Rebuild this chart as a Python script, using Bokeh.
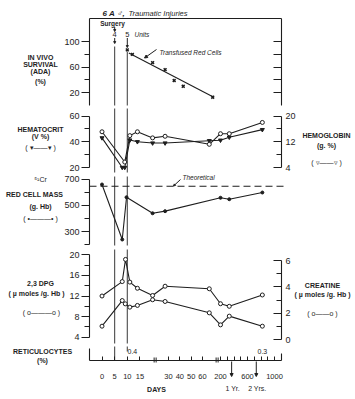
import numpy as np
from bokeh.plotting import figure
from bokeh.models import (Range1d, LinearAxis, FixedTicker, Label, Arrow,
                          NormalHead)
from bokeh.core.properties import value
from bokeh.embed import file_html
from bokeh.resources import INLINE

# ------------------------------------------------------------------ data
tick_days = [0, 5, 10, 15, 30, 40, 50, 60, 200, 300, 400, 500, 600, 700, 800, 900, 1000]
tick_text = {0: "0", 5: "5", 10: "10", 15: "15", 30: "30", 40: "40", 50: "50",
             60: "60", 200: "200", 600: "600", 1000: "1000"}
break_days = [21, 150]
event_days = [5, 10]            # surgery (4 units), transfusion (5 units)
year_days = [365, 730]
year_text = ["1 Yr.", "2 Yrs."]

surv_days = [10, 12, 20, 27, 35, 43, 69]
surv_vals = [87, 80, 67, 56, 39, 30, 13]
surv_fit_days = [10.6, 70]
surv_fit_vals = [82, 13]

hct_days = [0, 8, 9, 11, 14, 20, 27, 66, 200, 330, 820]
hct_vals = [43, 20, 20, 41.3, 40, 39, 39, 40.8, 41.2, 43.5, 49.4]
hb_days = [0, 9, 11, 14, 20, 27, 66, 200, 330, 820]
hb_vals = [15.1, 5.7, 13.9, 15.1, 13.2, 13.7, 11.2, 14.5, 14.5, 18.0]

rcm_days = [0, 8, 9.7, 20, 27, 200, 330, 820]
rcm_vals = [658, 239, 561, 439, 455, 557, 546, 597]
rcm_theoretical = 645

dpg_days = [0, 8, 9.3, 11, 14, 20, 27, 66, 200, 330, 820]
dpg_vals = [12.0, 14.8, 19.1, 14.7, 13.5, 12.1, 13.9, 13.4, 10.5, 10.0, 12.2]
creat_days = [0, 8, 9.2, 11, 14, 20, 27, 66, 200, 330, 820]
creat_vals = [1.03, 2.97, 2.72, 2.47, 2.6, 3.03, 2.9, 2.04, 1.13, 1.79, 1.03]

retic_days = [12, 820]
retic_text = ["0.4", "0.3"]

# ------------------------------------------------------------------ helpers
INK = "#1e1e1e"
GREY = "#4a4a4a"
FONT = "Liberation Sans"
X0 = 101.5            # pixel column of day 0
XL, XR = -12.5, 179.5  # left / right axis positions (plot units)


def u(d):
    """broken day axis -> plotting coordinate (1 unit = 1 px)"""
    d = np.asarray(d, dtype=float)
    return np.round(np.where(d <= 21, 2.53 * d,
                    np.where(d <= 100, 66.5 + (d - 30) * 1.133,
                             118.5 + (d - 200) * 0.0675)), 2)


def yrange(v1, p1, v2, p2):
    """range over the full canvas height so that v1 sits at pixel row p1, v2 at p2"""
    s = (v2 - v1) / (p2 - p1)
    return Range1d(v1 + (399 - p1) * s, v1 + (0 - p1) * s)


p = figure(width=355, height=399, x_range=Range1d(-X0, 355 - X0),
           y_range=Range1d(399, 0), toolbar_location=None, output_backend="svg",
           x_axis_location=None, y_axis_location=None,
           min_border_left=0, min_border_right=0, min_border_top=0,
           min_border_bottom=0)
p.outline_line_color = None
p.background_fill_color = "white"
p.border_fill_color = "white"
p.grid.visible = False

p.extra_y_ranges = {
    "surv": yrange(0, 105, 136, 18),
    "hct": yrange(60, 115.5, 20, 167),
    "hb": yrange(20, 115.5, 4, 167),
    "rcm": yrange(700, 178.5, 300, 231),
    "dpg": yrange(20, 254.3, 4, 336.7),
    "cr": yrange(6, 260, 0, 339.3),
}


def yaxis(side, loc, rname, ticks, minor=(), bounds="auto", labels=True,
          tin=0, tout=8, min_in=0, min_out=5, standoff=2, size="9px"):
    kw = {"y_range_name": rname} if rname else {}
    ax = LinearAxis(ticker=FixedTicker(ticks=list(ticks), minor_ticks=list(minor)),
                    bounds=bounds, fixed_location=loc, **kw)
    style(ax, labels, tin, tout, min_in, min_out, standoff, size)
    p.add_layout(ax, side)
    return ax


def style(ax, labels, tin, tout, min_in, min_out, standoff, size):
    ax.axis_line_color = INK
    ax.axis_line_width = 1.1
    ax.major_tick_line_color = INK
    ax.minor_tick_line_color = INK
    ax.major_tick_in = tin
    ax.major_tick_out = tout
    ax.minor_tick_in = min_in
    ax.minor_tick_out = min_out
    ax.major_label_text_font = FONT
    ax.major_label_text_font_size = size
    ax.major_label_text_color = INK if labels else None
    ax.major_label_standoff = standoff


def lab(px, py, text, size="7px", st="bold", align="center"):
    p.add_layout(Label(x=px - X0, y=py, text=text, text_align=align,
                       text_baseline="middle", text_font=FONT,
                       text_font_size=size, text_font_style=st,
                       text_color=INK))


def arrow(px0, py0, px1, py1, head=3):
    end = NormalHead(size=head, fill_color=INK, line_color=INK) if head else None
    p.add_layout(Arrow(end=end, x_start=px0 - X0, y_start=py0,
                       x_end=px1 - X0, y_end=py1, line_color=INK, line_width=1))


ev = u(event_days)
# vertical event lines, drawn panel by panel (pixel rows)
for tops, bots in [([46, 51], [105, 105]), ([108, 108], [172, 172]),
                   ([176, 176], [245, 245]), ([249, 249], [343, 343]),
                   ([346, 346], [360, 351])]:
    p.segment(x0=ev, y0=tops, x1=ev, y1=bots, line_color=GREY, line_width=1.1)

# ------------------------------------------------------------------ panel 1: survival
yaxis("left", XL, "surv", [20, 60, 100], [40, 80], bounds=(0, 136))
yaxis("right", XR, "surv", [20, 40, 60, 80, 100], bounds=(0, 136), labels=False,
      tin=8, tout=0)
top = LinearAxis(ticker=FixedTicker(ticks=[]), bounds=(XL, XR), fixed_location=18)
style(top, False, 0, 0, 0, 0, 0, "9px")
p.add_layout(top, "above")
p.line(u(surv_fit_days), surv_fit_vals, y_range_name="surv", line_color=INK,
       line_width=1.1)
p.scatter(u(surv_days), surv_vals, y_range_name="surv", marker="x", size=4,
          line_width=1.5, line_color=INK)
lab(102, 13, "6 A \u2642,", size="8px", st="bold italic", align="left")
lab(128, 13, "Traumatic  Injuries", size="7.5px", st="italic", align="left")
lab(112, 23, "Surgery", size="6.5px")
arrow(114.2, 26.5, 114.2, 31, head=2)
lab(114.2, 34, "4", size="7.5px", st="normal")
arrow(114.2, 37.5, 114.2, 43, head=2)
lab(126.8, 34, "5", size="7.5px", st="normal")
lab(134, 34, "Units", size="6.5px", st="italic", align="left")
arrow(126.8, 37.5, 126.8, 47, head=2)
lab(159, 52, "Transfused  Red  Cells", size="6.5px", st="italic", align="left")
arrow(156, 49, 144, 57.5, head=3)
for py, t in [(57, "IN VIVO"), (64, "SURVIVAL"), (71, "(ADA)"), (81, "(%)")]:
    lab(40, py, t)

# ------------------------------------------------------------------ panel 2: hematocrit / hemoglobin
yaxis("left", XL, "hct", [20, 40, 60], [30, 50], bounds=(20, 60))
yaxis("right", XR, "hb", [4, 12, 20], [8, 16], bounds=(4, 20), tin=8, tout=0,
      min_in=5, min_out=0, standoff=4)
p.line(u(hct_days), hct_vals, y_range_name="hct", line_color=INK, line_width=1.1)
p.scatter(u(hct_days), hct_vals, y_range_name="hct", marker="inverted_triangle",
          size=4, fill_color=INK, line_color=INK)
p.line(u(hb_days), hb_vals, y_range_name="hb", line_color=INK, line_width=1.1)
p.scatter(u(hb_days), hb_vals, y_range_name="hb", marker="circle", size=4,
          fill_color="white", line_color=INK)
lab(40, 129, "HEMATOCRIT")
lab(40, 136, "(V %)")
lab(40, 147, "( \u25BE\u2014\u2014\u25BE )", st="normal")
lab(326, 135, "HEMOGLOBIN")
lab(326, 145, "(g. %)")
lab(326, 162, "( \u25BF\u2014\u2014\u25BF )", st="normal")

# ------------------------------------------------------------------ panel 3: red cell mass
yaxis("left", XL, "rcm", [300, 500, 700], [200, 400, 600], bounds=(200, 700))
p.segment(x0=[XL], y0=[rcm_theoretical], x1=[XR + 2], y1=[rcm_theoretical],
          y_range_name="rcm", line_color=INK, line_width=1.1, line_dash="7 4")
p.line(u(rcm_days), rcm_vals, y_range_name="rcm", line_color=INK, line_width=1.1)
p.scatter(u(rcm_days), rcm_vals, y_range_name="rcm", marker="circle", size=3,
          fill_color=INK, line_color=INK)
lab(182, 176.5, "Theoretical", size="6.5px", st="italic", align="left")
arrow(180, 179, 173, 185.5, head=2)
lab(40, 179, "\u2075\u00B9Cr", size="7px", st="normal")
lab(36, 194, "RED  CELL  MASS")
lab(40, 206, "(g. Hb)")
lab(40, 218, "( \u2022\u2014\u2014\u2014\u2022 )", st="normal")

# ------------------------------------------------------------------ panel 4: 2,3 DPG / creatine
yaxis("left", XL, "dpg", [4, 8, 12, 16, 20], [6, 10, 14, 18], bounds=(4, 20))
yaxis("right", XR, "cr", [0, 2, 4, 6], [1, 3, 5], bounds=(0, 6), tin=8, tout=0,
      min_in=5, min_out=0, standoff=4)
p.line(u(dpg_days), dpg_vals, y_range_name="dpg", line_color=INK, line_width=1.1)
p.scatter(u(dpg_days), dpg_vals, y_range_name="dpg", marker="circle", size=4,
          fill_color="white", line_color=INK)
p.line(u(creat_days), creat_vals, y_range_name="cr", line_color=INK, line_width=1.1)
p.scatter(u(creat_days), creat_vals, y_range_name="cr", marker="circle", size=4,
          fill_color="white", line_color=INK)
lab(40, 283, "2,3 DPG")
lab(36, 293, "( \u00B5 moles /g. Hb )")
lab(41, 312, "( o\u2014\u2014\u2014o )", st="normal")
lab(322, 285, "CREATINE")
lab(322, 294, "( \u00B5 moles /g. Hb )")
lab(322, 313, "( o\u2014\u2014o )", st="normal")

# ------------------------------------------------------------------ panel 5: reticulocytes + day axis
yaxis("left", XL, None, [], bounds=(348, 360), labels=False, tout=0, min_out=0)
yaxis("right", XR, None, [], bounds=(353, 360), labels=False, tout=0, min_out=0)
tick_pos = [float(v) for v in u(tick_days)]
xax = LinearAxis(ticker=FixedTicker(ticks=tick_pos, minor_ticks=[]),
                 bounds=(XL, XR), fixed_location=360)
style(xax, True, 4, 0, 0, 0, 13, "7.5px")
xax.major_label_overrides = {v: tick_text.get(d, "") for v, d in zip(tick_pos, tick_days)}
p.add_layout(xax, "below")
p.text(x=u(retic_days), y=[351, 351], text=retic_text, text_align="center",
       text_baseline="middle", text_font=value(FONT), text_font_size="7px",
       text_color=INK)
for bx in u(break_days):
    for dx in (-1.0, 1.0):
        arrow(X0 + bx + dx, 357, X0 + bx + dx, 362, head=0)
for yx, yt in zip(u(year_days), year_text):
    arrow(X0 + yx, 361, X0 + yx, 376, head=3)
    lab(X0 + yx + 1, 388, yt, size="7px", st="normal")
lab(156, 389, "DAYS", size="7px")
lab(42, 351, "RETICULOCYTES")
lab(42, 360, "(%)")

open("out.html", "w").write(file_html(p, INLINE))
